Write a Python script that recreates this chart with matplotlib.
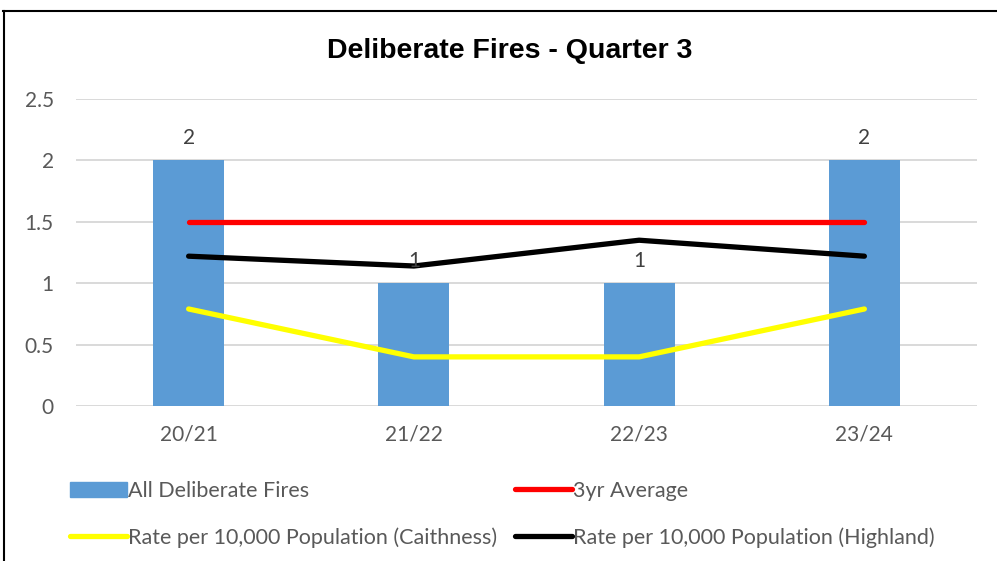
import matplotlib
matplotlib.use("Agg")
import matplotlib.pyplot as plt
from matplotlib.lines import Line2D
from matplotlib.patches import Patch

seasons = ["20/21", "21/22", "22/23", "23/24"]
all_fires = [2, 1, 1, 2]
avg_3yr = [1.5, 1.5, 1.5, 1.5]
rate_caithness = [0.79, 0.40, 0.40, 0.79]
rate_highland = [1.22, 1.14, 1.35, 1.22]

W, H = 997, 561
plt.rcParams["font.family"] = ["Lato", "DejaVu Sans"]
fig = plt.figure(figsize=(W / 100, H / 100), dpi=100)
ax = fig.add_axes([76 / W, 1 - 406 / H, (977 - 76) / W, (406 - 99) / H])

x = list(range(len(seasons)))
ax.bar(x, all_fires, width=0.315, color="#5B9BD5", zorder=2)
ax.plot(x, avg_3yr, color="#FF0000", lw=3.8, solid_capstyle="round", zorder=3)
ax.plot(x, rate_caithness, color="#FFFF00", lw=3.8, solid_capstyle="round", zorder=3)
ax.plot(x, rate_highland, color="black", lw=3.8, solid_capstyle="round", zorder=3)
for xi, v in zip(x, all_fires):
    ax.text(xi, v + 0.1, str(v), ha="center", va="bottom", fontsize=15, color="#404040", zorder=4)

ax.set_xlim(-0.5, len(seasons) - 0.5)
ax.set_ylim(0, 2.5)
ax.set_yticks([0, 0.5, 1, 1.5, 2, 2.5])
ax.set_yticklabels(["0", "0.5", "1", "1.5", "2", "2.5"])
ax.set_xticks(x)
ax.set_xticklabels(seasons)
ax.tick_params(length=0, labelsize=15, labelcolor="#595959")
ax.tick_params(axis="y", pad=16)
ax.tick_params(axis="x", pad=13)
ax.grid(axis="y", color="#D9D9D9", lw=1.4, zorder=0)
ax.set_axisbelow(True)
for s in ax.spines.values():
    s.set_visible(False)

fig.text(510 / W, 1 - 51 / H, "Deliberate Fires - Quarter 3", ha="center", va="center",
         fontsize=20.5, fontweight="bold", family="Liberation Sans")

# outer chart border (top and left visible)
fig.add_artist(Line2D([3 / W, 1], [1 - 11 / H] * 2, color="black", lw=1.5))
fig.add_artist(Line2D([4 / W] * 2, [0, 1 - 11 / H], color="black", lw=1.5))

leg_kw = dict(frameon=False, fontsize=15.5, labelcolor="#595959", handlelength=2.65,
              handletextpad=0.05, labelspacing=1.22, borderaxespad=0, borderpad=0, loc="upper left")
h1 = [Patch(color="#5B9BD5"), Line2D([], [], color="#FFFF00", lw=3.8, solid_capstyle="round")]
h2 = [Line2D([], [], color="#FF0000", lw=3.8, solid_capstyle="round"),
      Line2D([], [], color="black", lw=3.8, solid_capstyle="round")]
fig.legend(h1, ["All Deliberate Fires", "Rate per 10,000 Population (Caithness)"],
           bbox_to_anchor=(70 / W, 1 - 481 / H), **leg_kw)
fig.legend(h2, ["3yr Average", "Rate per 10,000 Population (Highland)"],
           bbox_to_anchor=(515 / W, 1 - 481 / H), **leg_kw)

fig.savefig("out.png", dpi=100)
